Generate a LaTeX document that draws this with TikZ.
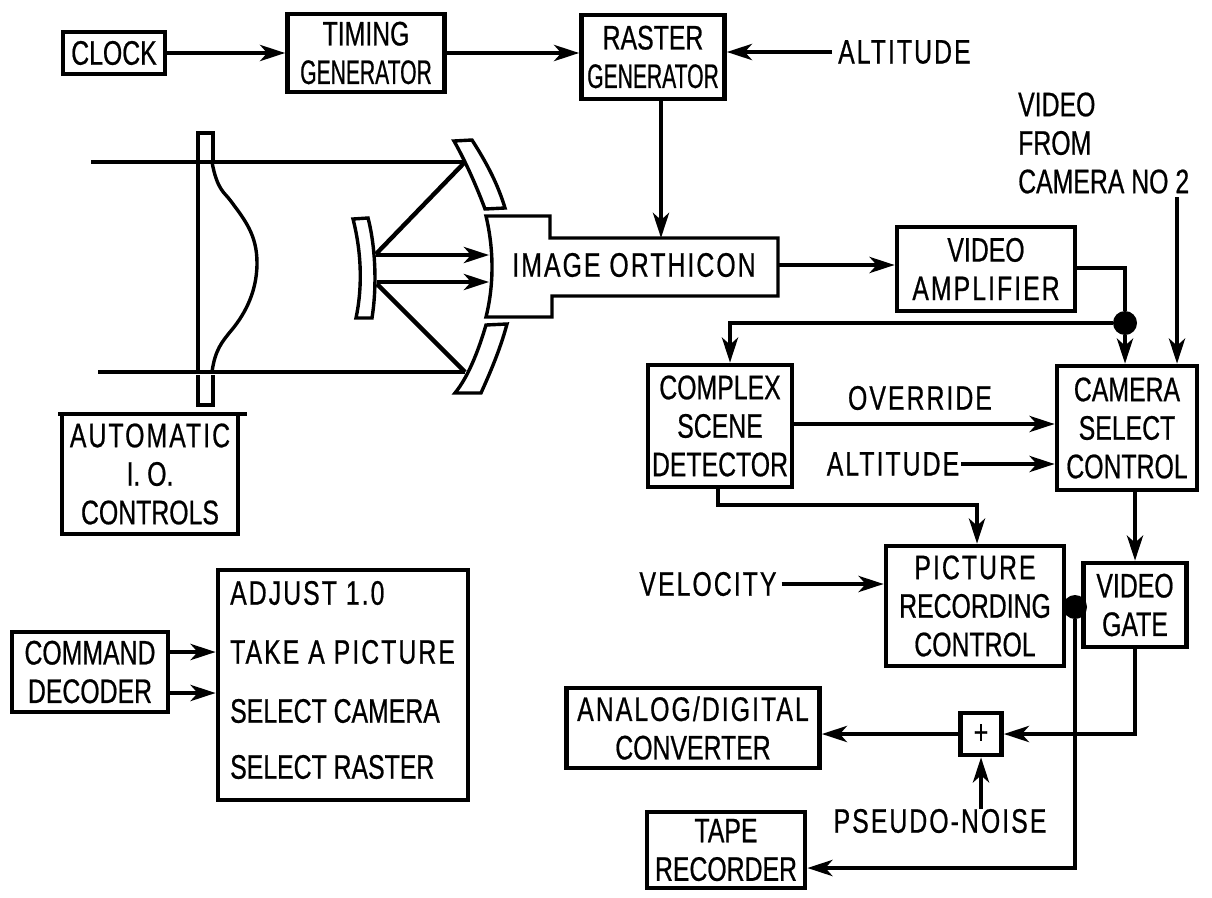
\documentclass[tikz,border=0pt]{standalone}
\usepackage{fontspec}
\setmainfont[FakeStretch=0.73,FakeBold=0.6]{Liberation Sans}
\newfontfamily\widefont[FakeStretch=0.73,FakeBold=0.6,LetterSpace=6]{Liberation Sans}
\newfontfamily\tightfont[FakeStretch=0.62,FakeBold=0.6]{Liberation Sans}
\usetikzlibrary{arrows.meta}
\newcommand{\blocktext}{\fontsize{34}{38.5}\selectfont}
\tikzset{
  blockbox/.style={draw,line width=4.6pt,inner sep=0pt,align=center,font=\blocktext},
  plainlabel/.style={inner sep=0pt,align=center,font=\blocktext},
  leftlabel/.style={inner sep=0pt,anchor=west,font=\blocktext},
  flow/.style={line width=4.4pt,-{Stealth[length=25pt,width=16pt,inset=7pt]}},
  wire/.style={line width=4.4pt},
  optic/.style={line width=3.4pt},
  dotjoin/.style={circle,fill=black,inner sep=0pt,minimum size=24pt}
}
\begin{document}
\begin{tikzpicture}[x=1pt,y=-1pt]
  \useasboundingbox (0,0) rectangle (1212,897);
  % top row
  \node[blockbox,minimum width=102pt,minimum height=42pt] (clock) at (114,53) {CLOCK};
  \node[blockbox,minimum width=157pt,minimum height=78pt] (timing) at (366,53) {TIMING\\{\tightfont GENERATOR}};
  \node[blockbox,minimum width=143pt,minimum height=84pt] (raster) at (653,57) {RASTER\\{\tightfont GENERATOR}};
  \node[leftlabel] (altone) at (838,52) {\widefont ALTITUDE};
  \draw[flow] (clock.east) -- (timing.west);
  \draw[flow] (timing.east) -- (raster.west |- timing.east);
  \draw[flow] (altone.west) ++(-6,0) -- (raster.east |- altone.west);
  % optics
  \coordinate (raytop) at (465,162);
  \coordinate (raybot) at (465,372);
  \coordinate (smalltop) at (376,254);
  \coordinate (smallbot) at (377,284);
  \coordinate (tubefaceone) at (489,255);
  \coordinate (tubefacetwo) at (489,282);
  \draw[optic] (198,162) -- (198,133) -- (213,133) -- (213,162);
  \draw[optic] (198,375) -- (198,405) -- (213,405) -- (213,375);
  \draw[optic] (198,162) -- (198,372);
  \draw[optic] (212,162) .. controls (217,190) and (225,193) .. (230,200)
    .. controls (245,220) and (257,235) .. (257,263)
    .. controls (257,295) and (242,318) .. (230,332)
    .. controls (222,342) and (215,350) .. (212,372);
  \draw[optic] (91,162) -- (raytop);
  \draw[wire] (98,372) -- (raybot);
  % mirrors
  \draw[optic] (454,141) -- (472,140) .. controls (488,165) and (498,185) .. (505,208)
    -- (485,209) .. controls (478,190) and (466,162) .. (454,141) -- cycle;
  \draw[optic] (486,325) -- (507,324) .. controls (500,350) and (490,373) .. (481,393)
    -- (455,393) .. controls (468,377) and (478,352) .. (486,325) -- cycle;
  \draw[optic] (353,219) -- (368,218) .. controls (374,240) and (378,280) .. (372,318)
    -- (356,318) .. controls (363,285) and (361,250) .. (353,219) -- cycle;
  \draw[wire] (raytop) -- (smalltop);
  \draw[wire] (smallbot) -- (raybot);
  \draw[flow] (smalltop |- tubefaceone) -- (tubefaceone);
  \draw[flow] (smallbot |- tubefacetwo) -- (tubefacetwo);
  % image orthicon
  \draw[optic] (486,216) -- (550,216) -- (550,238) -- (778,238) -- (778,296) -- (552,296)
    -- (552,317) -- (486,317) .. controls (494,285) and (494,250) .. (486,216) -- cycle;
  \node[plainlabel] (orthicon) at (634,265) {\widefont IMAGE ORTHICON};
  \coordinate (tubetop) at (661,238);
  \coordinate (tubeeast) at (778,265);
  \coordinate (rasterout) at (661,99);
  \draw[flow] (rasterout) -- (tubetop);
  % automatic i.o.
  \node[blockbox,minimum width=176pt,minimum height=120pt] (autoio) at (150,474) {{\widefont AUTOMATIC}\\I. O.\\CONTROLS};
  \draw[wire] (58,414) -- (247,414);
  % command side
  \node[blockbox,minimum width=156pt,minimum height=80pt] (decoder) at (90,672) {COMMAND\\DECODER};
  \node[draw,line width=4.6pt,minimum width=250pt,minimum height=230pt] (cmdlist) at (343,685) {};
  \node[leftlabel] (adjust) at (230,593) {\widefont ADJUST 1.0};
  \node[leftlabel] (takepic) at (230,652) {\widefont TAKE A PICTURE};
  \node[leftlabel] (selcam) at (230,711) {SELECT CAMERA};
  \node[leftlabel] (selras) at (230,767) {SELECT RASTER};
  \draw[flow] (decoder.east |- takepic.west) -- (cmdlist.west |- takepic.west);
  \draw[flow] (decoder.east |- 0,693) -- (cmdlist.west |- 0,693);
  % right side
  \node[blockbox,minimum width=178pt,minimum height=84pt] (amp) at (986,269) {VIDEO\\{\widefont AMPLIFIER}};
  \node[leftlabel,align=left] (videotwo) at (1018,143) {VIDEO\\FROM\\CAMERA NO 2};
  \coordinate (feedtwo) at (1177,197);
  \node[blockbox,minimum width=140pt,minimum height=124pt] (camera) at (1127,428) {CAMERA\\SELECT\\CONTROL};
  \node[blockbox,minimum width=144pt,minimum height=122pt] (complex) at (720,426) {COMPLEX\\SCENE\\DETECTOR};
  \node[blockbox,minimum width=178pt,minimum height=120pt] (picture) at (975,606) {{\widefont PICTURE}\\RECORDING\\CONTROL};
  \node[blockbox,minimum width=103pt,minimum height=84pt] (gate) at (1135,605) {VIDEO\\GATE};
  \node[plainlabel] (override) at (920,398) {\widefont OVERRIDE};
  \node[plainlabel] (alttwo) at (893,464) {\widefont ALTITUDE};
  \node[plainlabel] (velocity) at (708,584) {\widefont VELOCITY};
  \node[blockbox,minimum width=253pt,minimum height=80pt] (adc) at (693,728) {{\widefont ANALOG/DIGITAL}\\CONVERTER};
  \node[blockbox,minimum width=41pt,minimum height=42pt] (sum) at (981,734) {+};
  \node[plainlabel] (noise) at (940,821) {\widefont PSEUDO-NOISE};
  \node[blockbox,minimum width=158pt,minimum height=76pt] (tape) at (726,850) {TAPE\\RECORDER};
  \node[dotjoin] (joinamp) at (1125,323) {};
  \node[dotjoin] (joinpic) at (1075,607) {};
  \draw[flow] (orthicon.east -| tubeeast) -- (amp.west |- tubeeast);
  \draw[wire] (amp.east |- 0,268) -| (joinamp);
  \draw[flow] (joinamp) -- (camera.north -| joinamp);
  \draw[flow] (joinamp) -| (complex.north -| 730,0);
  \draw[flow] (feedtwo) -- (camera.north -| feedtwo);
  \draw[flow] (complex.east |- 0,424) -- (camera.west |- 0,424);
  \draw[flow] (alttwo.east) ++(2,0) -- (camera.west |- alttwo.east);
  \draw[flow] (complex.south -| 718,0) |- (977,505) -- (picture.north -| 977,0);
  \draw[flow] (velocity.east) ++(5,0) -- (picture.west |- velocity.east);
  \draw[flow] (camera.south -| gate.north) -- (gate.north);
  \draw[wire] (picture.east |- joinpic) -- (gate.west |- joinpic);
  \draw[flow] (gate.south) |- (sum.east);
  \draw[flow] (sum.west) -- (adc.east |- sum.west);
  \draw[flow] (noise.north -| sum.south) -- (sum.south);
  \draw[flow] (joinpic) |- (tape.east |- 0,868);
\end{tikzpicture}
\end{document}
